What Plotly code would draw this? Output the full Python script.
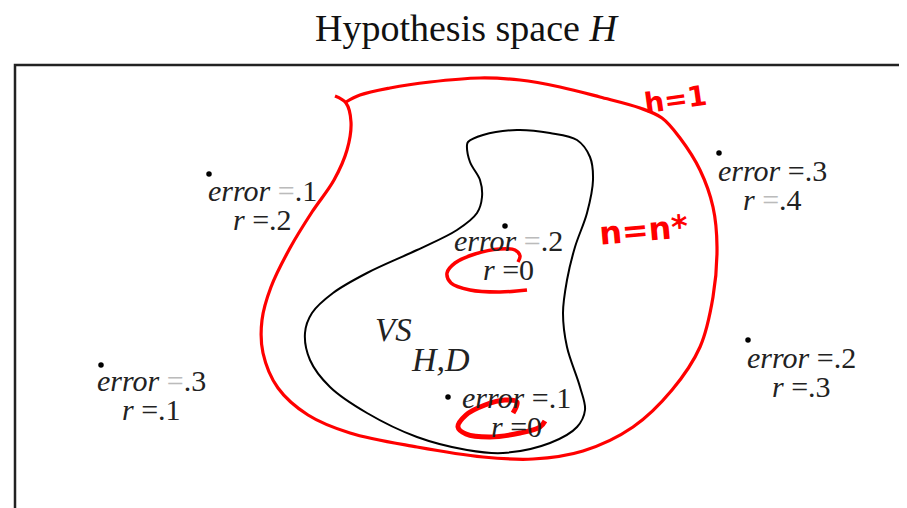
import plotly.graph_objects as go

# ---- data ----
title_text = "Hypothesis space <i>H</i>"
hyp_error = [".1", ".2", ".3", ".1", ".3", ".2"]
hyp_r = [".2", "0", ".1", "0", ".4", ".3"]
# which "=" signs appear light grey in the original
err_eq_grey = [True, True, True, False, False, False]
r_eq_grey = [False, False, False, False, True, False]

# ---- layout (pixel coordinates of the diagram) ----
dot_x = [209, 505, 101, 448, 719, 748]
dot_y = [174, 226, 365, 397, 153, 340]
lab_x = [262, 508, 151, 516, 772, 801]
lab_y = [190, 240, 380, 397, 170, 357]
line_gap = 29

blob_x = [467, 470, 480, 482, 477, 457, 417, 367, 333, 312, 305, 310, 330, 367, 417, 467, 503, 550, 577, 585, 580, 567, 563, 567, 575, 587, 593, 590, 577, 550, 517, 483, 468, 467]
blob_y = [145, 162, 180, 197, 213, 230, 250, 273, 293, 313, 333, 360, 387, 413, 437, 450, 453, 443, 427, 410, 387, 347, 313, 280, 247, 213, 180, 157, 140, 133, 130, 135, 142, 145]

red_x = [335, 346, 351, 347, 334, 312, 290, 271, 262, 263, 278, 308, 350, 417, 483, 533, 583, 633, 672, 700, 713, 717, 713, 700, 680, 662, 640, 600, 560, 520, 480, 430, 390, 360, 346]
red_y = [96, 103, 122, 150, 180, 212, 248, 287, 320, 353, 388, 415, 433, 447, 457, 459, 451, 427, 390, 347, 297, 247, 207, 170, 138, 118, 108, 97, 87, 80, 78, 82, 88, 95, 102]

loop1_x = [527, 500, 470, 451, 447, 455, 475, 500, 515, 520, 518]
loop1_y = [290, 292, 290, 283, 273, 263, 254, 249, 250, 256, 262]
loop2_x = [513, 517, 505, 485, 466, 458, 466, 490, 520, 540, 545]
loop2_y = [413, 402, 400, 405, 415, 427, 434, 437, 433, 427, 421]

SERIF = "Liberation Serif"
OFF = 8  # page body margin: the figure div starts 8px in from the window corner

fig = go.Figure()

# frame
fig.add_shape(type="rect", x0=15, y0=65, x1=940, y1=540,
              line=dict(color="#222", width=2.5), layer="below")

# version-space blob
fig.add_trace(go.Scatter(x=blob_x, y=blob_y, mode="lines",
                         line=dict(color="black", width=2, shape="spline", smoothing=1.0),
                         hoverinfo="skip"))
# red hand-drawn outline
fig.add_trace(go.Scatter(x=red_x, y=red_y, mode="lines",
                         line=dict(color="#ff0000", width=3.2, shape="spline", smoothing=1.0),
                         hoverinfo="skip"))
fig.add_trace(go.Scatter(x=loop1_x, y=loop1_y, mode="lines",
                         line=dict(color="#ff0000", width=3.5, shape="spline", smoothing=1.0),
                         hoverinfo="skip"))
fig.add_trace(go.Scatter(x=loop2_x, y=loop2_y, mode="lines",
                         line=dict(color="#ff0000", width=5, shape="spline", smoothing=1.0),
                         hoverinfo="skip"))

# hypothesis dots
fig.add_trace(go.Scatter(x=dot_x, y=dot_y, mode="markers",
                         marker=dict(color="black", size=5.5), hoverinfo="skip"))

def eq(grey):
    return "<span style='color:#bbbbbb'>=</span>" if grey else "="

for i in range(len(hyp_error)):
    fig.add_annotation(x=lab_x[i], y=lab_y[i],
                       text=f"<i>error</i> {eq(err_eq_grey[i])}{hyp_error[i]}",
                       showarrow=False, xanchor="center", yanchor="middle",
                       font=dict(family=SERIF, size=30, color="#222"))
    fig.add_annotation(x=lab_x[i], y=lab_y[i] + line_gap,
                       text=f"<i>r</i> {eq(r_eq_grey[i])}{hyp_r[i]}",
                       showarrow=False, xanchor="center", yanchor="middle",
                       font=dict(family=SERIF, size=30, color="#222"))

# VS_{H,D}
fig.add_annotation(x=393, y=330, text="<i>VS</i>", showarrow=False,
                   xanchor="center", yanchor="middle",
                   font=dict(family=SERIF, size=33, color="#222"))
fig.add_annotation(x=440, y=359, text="<i>H,D</i>", showarrow=False,
                   xanchor="center", yanchor="middle",
                   font=dict(family=SERIF, size=34, color="#222"))

# title
fig.add_annotation(x=467, y=28, text=title_text, showarrow=False,
                   xanchor="center", yanchor="middle",
                   font=dict(family=SERIF, size=38, color="#111"))

# red handwriting
fig.add_annotation(x=675, y=99, text="<b>h=1</b>", showarrow=False,
                   xanchor="center", yanchor="middle", textangle=-8,
                   font=dict(family="DejaVu Sans", size=28, color="#ff0000"))
fig.add_annotation(x=643, y=230, text="<b>n=n*</b>", showarrow=False,
                   xanchor="center", yanchor="middle", textangle=-5,
                   font=dict(family="DejaVu Sans", size=32, color="#ff0000"))

fig.update_layout(
    width=907, height=508,
    margin=dict(l=0, r=0, t=0, b=0),
    paper_bgcolor="white", plot_bgcolor="white",
    showlegend=False,
    xaxis=dict(range=[OFF, 907 + OFF], visible=False, fixedrange=True),
    yaxis=dict(range=[508 + OFF, OFF], visible=False, fixedrange=True),
)

fig.write_html("out.html")
